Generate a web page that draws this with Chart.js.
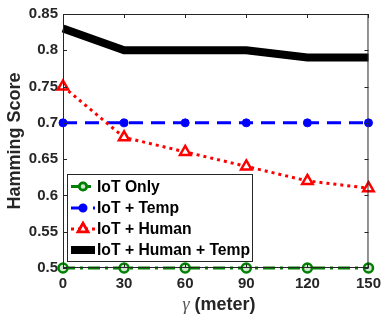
<!DOCTYPE html>
<html><head><meta charset="utf-8">
<script src="https://cdn.jsdelivr.net/npm/chart.js@4/dist/chart.umd.min.js"></script>
<style>html,body{margin:0;padding:0;background:#fff}#wrap{width:388px;height:321px}</style>
</head><body><div id="wrap"><canvas id="c"></canvas></div>
<script>
const gammaValues = [0, 30, 60, 90, 120, 150];
const iotOnly = [0.5, 0.5, 0.5, 0.5, 0.5, 0.5];
const iotTemp = [0.7, 0.7, 0.7, 0.7, 0.7, 0.7];
const iotHuman = [0.75, 0.68, 0.66, 0.64, 0.62, 0.61];
const iotHumanTemp = [0.83, 0.80, 0.80, 0.80, 0.79, 0.79];
const seriesNames = ['IoT Only', 'IoT + Temp', 'IoT + Human', 'IoT + Human + Temp'];
const yTicks = [0.5, 0.55, 0.6, 0.65, 0.7, 0.75, 0.8, 0.85];
const xTicks = [0, 30, 60, 90, 120, 150];

const pts = arr => arr.map((v, i) => ({x: gammaValues[i], y: v}));
const AX = '#262626';
const FONT = 'Liberation Sans, Arial, Helvetica, sans-serif';

const datasets = [
  {label: seriesNames[3], data: pts(iotHumanTemp), borderColor: '#000', backgroundColor: '#000', borderWidth: 8, pointRadius: 0, order: 0},
  {label: seriesNames[2], data: pts(iotHuman), borderColor: '#ff0000', backgroundColor: '#fff', borderWidth: 3, borderDash: [3, 4], pointStyle: 'triangle', pointRadius: 6, pointBorderWidth: 2.5, order: 1},
  {label: seriesNames[1], data: pts(iotTemp), borderColor: '#0000ff', backgroundColor: '#0000ff', borderWidth: 3, borderDash: [14, 8], pointStyle: 'circle', pointRadius: 4, pointBorderWidth: 1, order: 2},
  {label: seriesNames[0], data: pts(iotOnly), borderColor: '#008000', backgroundColor: '#cfe6cf', borderWidth: 3, borderDash: [12, 5, 3, 5], pointStyle: 'circle', pointRadius: 4.5, pointBorderWidth: 2.5, order: 3}
];
const legendRadius = [3.5, 3, 5.5, 0];

const framePlugin = {
  id: 'frame',
  afterDraw(chart) {
    const ctx = chart.ctx, a = chart.chartArea;
    const xs = chart.scales.x, ys = chart.scales.y;
    ctx.save();
    ctx.strokeStyle = AX; ctx.lineWidth = 1;
    ctx.strokeRect(a.left + 0.5, a.top + 0.5, a.right - a.left - 1, a.bottom - a.top - 1);
    ctx.beginPath();
    xTicks.forEach(v => {
      const px = Math.round(xs.getPixelForValue(v)) + 0.5;
      ctx.moveTo(px, a.bottom); ctx.lineTo(px, a.bottom - 4);
      ctx.moveTo(px, a.top); ctx.lineTo(px, a.top + 4);
    });
    yTicks.forEach(v => {
      const py = Math.round(ys.getPixelForValue(v)) + 0.5;
      ctx.moveTo(a.left, py); ctx.lineTo(a.left + 4, py);
      ctx.moveTo(a.right, py); ctx.lineTo(a.right - 4, py);
    });
    ctx.stroke();

    // legend
    const lx = 67, ly = 174, lw = 185, lh = 87;
    ctx.fillStyle = '#fff';
    ctx.fillRect(lx, ly, lw, lh);
    ctx.strokeStyle = AX; ctx.lineWidth = 1;
    ctx.strokeRect(lx + 0.5, ly + 0.5, lw, lh);
    const rows = [186.5, 208, 229, 250];
    const order = [3, 2, 1, 0];
    order.forEach((di, r) => {
      const ds = datasets[di];
      const y = rows[r];
      ctx.save();
      ctx.strokeStyle = ds.borderColor;
      ctx.lineWidth = ds.borderWidth;
      ctx.setLineDash(di === 0 ? [] : (ds.borderDash || []));
      ctx.beginPath(); ctx.moveTo(71, y); ctx.lineTo(95, y); ctx.stroke();
      ctx.setLineDash([]);
      if (ds.pointRadius > 0) {
        Chart.helpers.drawPoint(ctx, {pointStyle: ds.pointStyle, rotation: 0, radius: legendRadius[r], borderWidth: ds.pointBorderWidth}, 83, y);
        ctx.fillStyle = ds.backgroundColor; ctx.lineWidth = ds.pointBorderWidth;
        ctx.fill(); ctx.stroke();
      }
      ctx.restore();
      ctx.fillStyle = '#000';
      ctx.font = 'bold 15.7px ' + FONT;
      ctx.textBaseline = 'middle'; ctx.textAlign = 'left';
      ctx.fillText(ds.label, 97, y + 1);
    });

    // x title
    const cx = 219, ty = 305;
    ctx.textBaseline = 'middle';
    const g = 'γ';
    ctx.font = 'bold 18px ' + FONT;
    const rest = ' (meter)';
    const wr = ctx.measureText(rest).width;
    ctx.font = 'italic 18px "Liberation Serif", serif';
    const wg = ctx.measureText(g).width;
    const start = cx - (wr + wg) / 2;
    ctx.fillStyle = '#555';
    ctx.textAlign = 'left';
    ctx.fillText(g, start, ty);
    ctx.fillStyle = AX;
    ctx.font = 'bold 18px ' + FONT;
    ctx.fillText(rest, start + wg, ty);
    ctx.restore();
  }
};

new Chart(document.getElementById('c'), {
  type: 'line',
  data: {datasets},
  options: {
    responsive: true, maintainAspectRatio: false, animation: false,
    layout: {padding: {left: 0, top: 13, right: 13, bottom: 0}},
    plugins: {legend: {display: false}, tooltip: {enabled: false}},
    elements: {line: {tension: 0}},
    clip: false,
    scales: {
      x: {
        type: 'linear', min: 0, max: 150,
        afterBuildTicks: s => { s.ticks = xTicks.map(v => ({value: v})); },
        afterFit: s => { s.height = 53; },
        grid: {display: false, drawTicks: false},
        border: {display: false},
        ticks: {padding: 7, color: AX, font: {family: FONT, size: 15, weight: 'bold'}, maxRotation: 0}
      },
      y: {
        type: 'linear', min: 0.5, max: 0.85,
        afterBuildTicks: s => { s.ticks = yTicks.map(v => ({value: v})); },
        afterFit: s => { s.width = 63; },
        grid: {display: false, drawTicks: false},
        border: {display: false},
        ticks: {padding: 5, color: AX, font: {family: FONT, size: 15, weight: 'bold'}, callback: v => String(+v.toFixed(2))},
        title: {display: true, text: 'Hamming Score', color: AX, font: {family: FONT, size: 18, weight: 'bold'}, padding: {top: 4, bottom: 0}}
      }
    }
  },
  plugins: [framePlugin]
});
</script></body></html>
